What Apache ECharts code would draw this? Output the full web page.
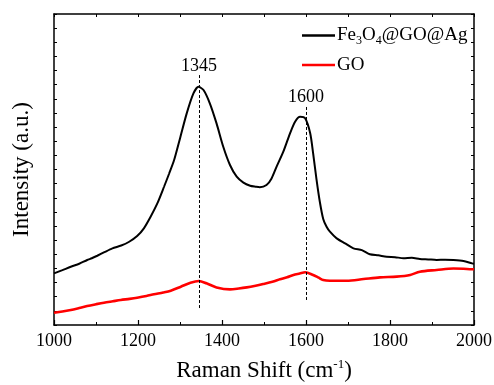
<!DOCTYPE html>
<html>
<head>
<meta charset="utf-8">
<script src="https://cdn.jsdelivr.net/npm/echarts@6/dist/echarts.min.js"></script>
<style>html,body{margin:0;padding:0;background:#fff}#c{width:494px;height:385px}</style>
</head>
<body>
<div id="c"></div>
<script>
var xTicks = [1000, 1200, 1400, 1600, 1800, 2000];
var peakLabels = ['1345', '1600'];
var peakPos = [1345, 1600];
var peakLineBottom = [1.2, 1.77];
var peakLineTop = [17.68, 15.49];

var blackX = [1000,1020,1040,1060,1079,1090,1103,1120,1139,1160,1179,1198,1214,1230,1246,1262,1274,1286,1300,1316,1332,1344,1356,1371,1387,1403,1419,1435,1451,1467,1480,1490,1506,1518,1530,1546,1562,1574,1586,1598,1610,1617,1625,1633,1641,1649,1657,1673,1693,1713,1733,1752,1772,1792,1812,1832,1852,1871,1891,1911,1931,1951,1975,1995,2000];
var blackY = [3.65,3.88,4.12,4.33,4.60,4.72,4.90,5.15,5.42,5.62,5.89,6.29,6.84,7.66,8.60,9.78,10.7,11.67,13.2,14.97,16.38,16.85,16.62,15.68,14.26,12.61,11.32,10.49,10.07,9.85,9.78,9.74,9.90,10.37,11.2,12.26,13.56,14.38,14.73,14.62,13.56,12.14,10.3,8.7,7.5,6.95,6.6,6.13,5.78,5.42,5.30,5.00,4.93,4.83,4.80,4.72,4.75,4.67,4.64,4.60,4.62,4.60,4.53,4.36,4.33];

var redX = [1000,1020,1040,1060,1079,1100,1119,1140,1159,1180,1198,1220,1238,1260,1278,1302,1325,1345,1363,1387,1419,1440,1459,1480,1498,1520,1538,1555,1570,1585,1598,1617,1630,1641,1657,1681,1697,1737,1776,1816,1848,1871,1911,1951,1975,1995,2000];
var redY = [0.87,0.95,1.06,1.20,1.34,1.47,1.58,1.68,1.77,1.85,1.93,2.05,2.17,2.30,2.43,2.71,2.99,3.11,2.95,2.66,2.52,2.58,2.66,2.78,2.90,3.06,3.23,3.38,3.54,3.64,3.73,3.54,3.35,3.18,3.13,3.13,3.13,3.25,3.37,3.42,3.54,3.77,3.89,4.00,3.98,3.94,3.94];

function pairs(xs, ys){ return xs.map(function(x,i){ return [x, ys[i]]; }); }

var FONT = 'Liberation Serif';
var chart = echarts.init(document.getElementById('c'));
var markData = peakPos.map(function(p,i){
  return [{coord:[p, peakLineBottom[i]]}, {coord:[p, peakLineTop[i]], label:{formatter: peakLabels[i]}}];
});
chart.setOption({
  animation: false,
  textStyle: {fontFamily: FONT, color: '#000'},
  grid: {left: 54, right: 20, top: 14, bottom: 60, show: false, containLabel: false, outerBoundsMode: 'none'},
  legend: {
    orient: 'vertical', left: 302, top: 26, padding: 0, itemWidth: 33, itemHeight: 2.5, itemGap: 9,
    icon: 'rect',
    textStyle: {fontFamily: FONT, fontSize: 19, color: '#000', padding: [0,0,0,-3],
      rich: {a: {fontFamily: FONT, fontSize: 19, color: '#000'}, s: {fontFamily: FONT, fontSize: 12, color: '#000', padding: [10,0,0,0]}}},
    formatter: function(n){ return n === 'Fe3O4@GO@Ag' ? '{a|Fe}{s|3}{a|O}{s|4}{a|@GO@Ag}' : '{a|' + n + '}'; },
    data: [{name: 'Fe3O4@GO@Ag', itemStyle: {color: '#000'}}, {name: 'GO', itemStyle: {color: '#ff0000'}}]
  },
  xAxis: [{
    type: 'value', min: 1000, max: 2000, interval: 200, position: 'bottom',
    axisLine: {lineStyle: {color: '#000', width: 1.5}},
    axisTick: {inside: true, length: 5, lineStyle: {color: '#000', width: 1.2}},
    minorTick: {show: true, splitNumber: 2, length: 3, lineStyle: {color: '#000', width: 1}},
    splitLine: {show: false},
    axisLabel: {fontFamily: FONT, fontSize: 18, color: '#000', margin: 7,
      formatter: function(v){ return xTicks.indexOf(v) >= 0 ? String(v) : ''; }},
    name: '{a|Raman Shift (cm}{s|-1}{a|)}', nameLocation: 'middle', nameGap: 33,
    nameTextStyle: {rich: {a: {fontFamily: FONT, fontSize: 23, color: '#000'}, s: {fontFamily: FONT, fontSize: 13, color: '#000', padding: [0,0,12,0]}}}
  }, {
    type: 'value', min: 1000, max: 2000, interval: 100, position: 'top',
    axisLine: {show: true, onZero: false, lineStyle: {color: '#000', width: 1.5}},
    axisTick: {inside: true, length: 3, lineStyle: {color: '#000', width: 1}},
    axisLabel: {show: false}, splitLine: {show: false}
  }],
  yAxis: [{
    type: 'value', min: 0, max: 22, interval: 1, position: 'left',
    axisLine: {show: true, onZero: false, lineStyle: {color: '#000', width: 1.5}},
    axisTick: {inside: true, length: 3, lineStyle: {color: '#000', width: 1}},
    axisLabel: {show: false}, splitLine: {show: false},
    name: 'Intensity (a.u.)', nameLocation: 'middle', nameGap: 21,
    nameTextStyle: {fontFamily: FONT, fontSize: 23, color: '#000'}
  }, {
    type: 'value', min: 0, max: 22, interval: 1, position: 'right',
    axisLine: {show: true, onZero: false, lineStyle: {color: '#000', width: 1.5}},
    axisTick: {inside: true, length: 3, lineStyle: {color: '#000', width: 1}},
    axisLabel: {show: false}, splitLine: {show: false}
  }],
  series: [{
    name: 'Fe3O4@GO@Ag', type: 'line', data: pairs(blackX, blackY), showSymbol: false, symbol: 'none',
    smooth: 0.25, lineStyle: {color: '#000', width: 2}, itemStyle: {color: '#000'},
    markLine: {symbol: ['none','none'], silent: true, animation: false,
      lineStyle: {color: '#000', type: [3,2], width: 1},
      label: {position: 'end', distance: 0, fontFamily: FONT, fontSize: 18, color: '#000'},
      data: markData}
  }, {
    name: 'GO', type: 'line', data: pairs(redX, redY), showSymbol: false, symbol: 'none',
    smooth: 0.3, lineStyle: {color: '#ff0000', width: 2.6}, itemStyle: {color: '#ff0000'}
  }]
});
</script>
</body>
</html>
